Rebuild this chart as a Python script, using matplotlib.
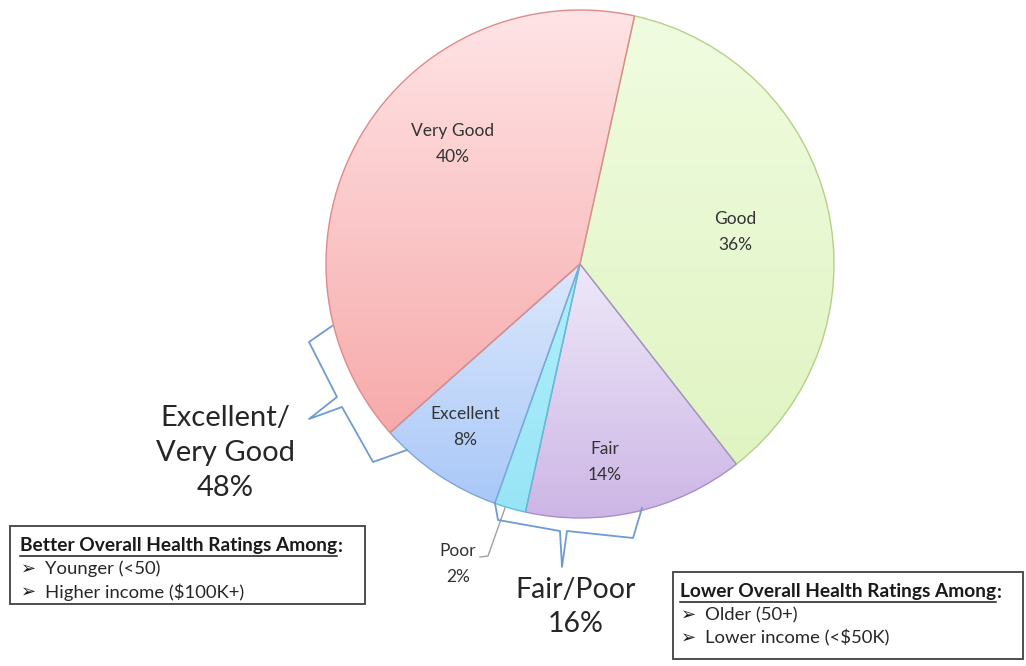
import matplotlib
matplotlib.use("Agg")
import matplotlib.pyplot as plt
import numpy as np
from matplotlib.colors import LinearSegmentedColormap

# ---------------- data ----------------
categories = ["Good", "Fair", "Poor", "Excellent", "Very Good"]
values = [36, 14, 2, 8, 40]
pct_labels = ["36%", "14%", "2%", "8%", "40%"]
group_labels = ["Excellent/\nVery Good\n48%", "Fair/Poor\n16%"]
better_title = "Better Overall Health Ratings Among"
better_items = ["Younger (<50)", "Higher income ($100K+)"]
lower_title = "Lower Overall Health Ratings Among"
lower_items = ["Older (50+)", "Lower income (<$50K)"]

# ---------------- styles ----------------
top_colors = ["#F0FCE0", "#EEE8F8", "#B0F0FC", "#DCE8FC", "#FFE4E6"]
bot_colors = ["#E0F4C2", "#CDB6E6", "#98E4F6", "#A9C8F8", "#F7AAAA"]
edge_colors = ["#B4D08A", "#A690C8", "#5CC0D8", "#7FA6DA", "#E08A8A"]
brace_color = "#6F9BD2"
W, H = 1026, 666
FONT = ["Lato", "DejaVu Sans"]
plt.rcParams["font.family"] = FONT

def Y(py):
    return H - py

fig = plt.figure(figsize=(W / 100, H / 100), dpi=100)
ax = fig.add_axes([0, 0, 1, 1])
ax.set_axis_off()

cx, cy, R = 580, 264, 254
wedges, _ = ax.pie(values, startangle=77.6, counterclock=False,
                   center=(cx, Y(cy)), radius=R, frame=True,
                   wedgeprops=dict(linewidth=1.0))
for i, w in enumerate(wedges):
    w.set_facecolor("none")
    w.set_edgecolor(edge_colors[i])
    w.set_zorder(3)
    bb = w.get_path().get_extents()
    cmap = LinearSegmentedColormap.from_list("g%d" % i, [bot_colors[i], top_colors[i]])
    grad = np.linspace(0, 1, 256).reshape(-1, 1)
    im = ax.imshow(grad, extent=[bb.x0, bb.x1, bb.y0, bb.y1], origin="lower",
                   cmap=cmap, aspect="auto", zorder=2, interpolation="bilinear")
    im.set_clip_path(w)

ax.set_xlim(0, W)
ax.set_ylim(0, H)
ax.set_axis_off()

# slice labels (layout positions in pixel coords)
label_pos = [(735, 232), (605, 462), (458, 564), (465, 427), (453, 144)]
for i, (lx, ly) in enumerate(label_pos):
    ax.text(lx, Y(ly), categories[i] + "\n" + pct_labels[i], ha="center", va="center",
            fontsize=12.5, color="#333333", linespacing=1.8, zorder=5)

# leader line for Poor
ax.plot([505, 488, 480], [Y(508), Y(556), Y(557)], color="#A0A0A0", lw=1.0, zorder=4)

# braces
left_brace = [(332, 326), (309, 342), (337, 397), (309, 419), (342, 407), (373, 462), (407, 450)]
bottom_brace = [(495, 503), (498, 520), (560, 531), (562, 567), (567, 531), (633, 538), (642, 508)]
for br in (left_brace, bottom_brace):
    xs = [p[0] for p in br]
    ys = [Y(p[1]) for p in br]
    ax.plot(xs, ys, color=brace_color, lw=1.3, zorder=4, solid_joinstyle="round")

ax.text(225, Y(453), group_labels[0], ha="center", va="center", fontsize=21,
        color="#262626", linespacing=1.42, zorder=5)
ax.text(576, Y(607), group_labels[1], ha="center", va="center", fontsize=20.5,
        color="#262626", linespacing=1.42, zorder=5)

# boxes
def note_box(x0, y0, x1, y1, title, items, tx, ty):
    ax.add_patch(plt.Rectangle((x0, Y(y1)), x1 - x0, y1 - y0, facecolor="white",
                               edgecolor="#404040", lw=1.3, zorder=4))
    t = ax.text(tx, Y(ty), title, ha="left", va="center", fontsize=13.8,
                fontweight="bold", color="#1a1a1a", zorder=5)
    fig.canvas.draw()
    r = fig.canvas.get_renderer()
    bb = t.get_window_extent(r)
    ax.text(bb.x1 + 1, Y(ty), ":", ha="left", va="center", fontsize=13.8,
            fontweight="bold", color="#1a1a1a", zorder=5)
    ax.plot([bb.x0, bb.x1], [Y(ty) - 9.5, Y(ty) - 9.5], color="#1a1a1a", lw=1.1, zorder=5)
    for k, it in enumerate(items):
        yy = ty + 23 * (k + 1)
        ax.text(tx + 1, Y(yy), "\u27A2", ha="left", va="center", fontsize=13,
                color="#1a1a1a", zorder=5, family=["DejaVu Sans"])
        ax.text(tx + 25, Y(yy), it, ha="left", va="center", fontsize=13.3,
                color="#262626", zorder=5)

note_box(10, 526, 365, 604, better_title, better_items, 20, 546)
note_box(673, 572, 1023, 659, lower_title, lower_items, 680, 592)

ax.set_xlim(0, W)
ax.set_ylim(0, H)
fig.savefig("out.png", dpi=100, facecolor="white")
